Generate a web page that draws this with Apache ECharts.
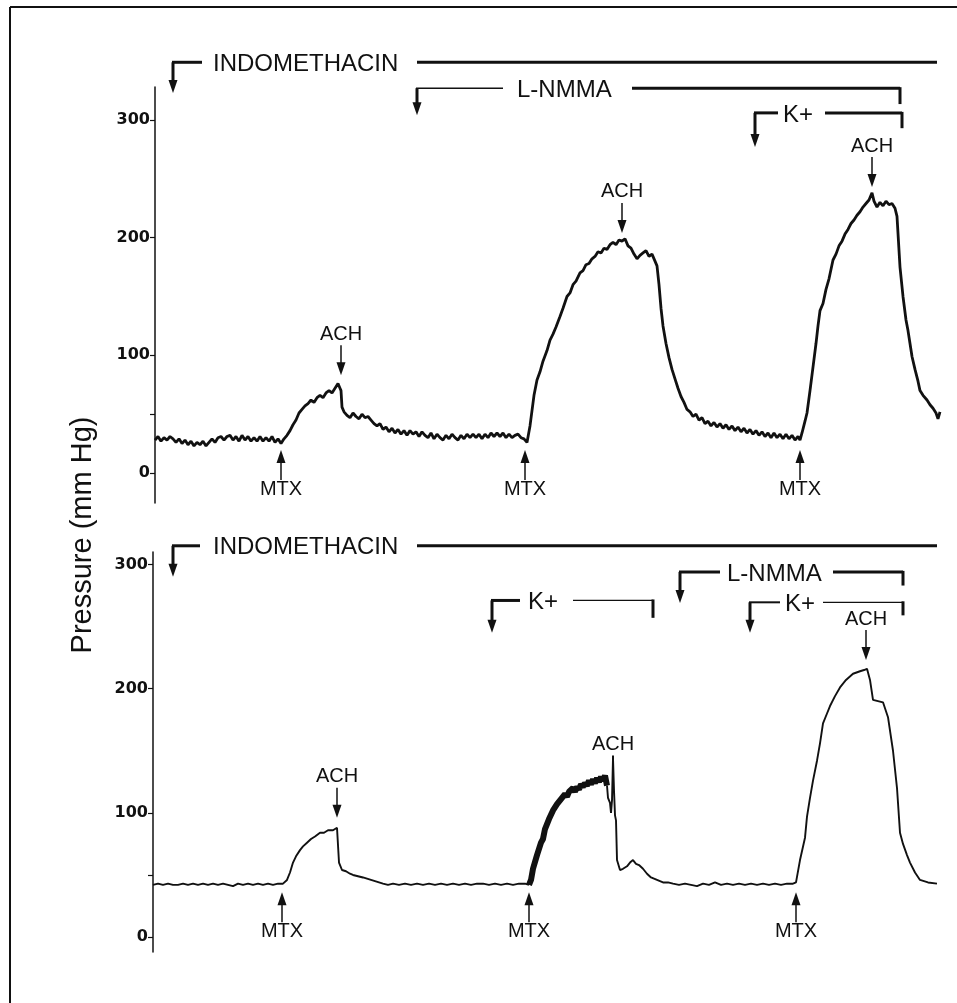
<!DOCTYPE html>
<html lang="en">
<head>
    <meta charset="UTF-8">
    <title>Pressure (mm Hg)</title>
    <style>
        html, body { margin: 0; padding: 0; background: #fff; }
        .chart { width: 957px; height: 1003px; }
    </style>
</head>
<body>
<div class="chart" id="showData"></div>
<script src="https://cdn.jsdelivr.net/npm/echarts@6/dist/echarts.min.js"></script>
<script>
    // time in arbitrary trace units, pressure in mm Hg
    var topTrace = [
        [0,28],[3,31],[6,27],[9,30],[12,28],[15,31],[18,29],[21,26],[24,29],[27,25],[30,28],[33,24],[36,27],[39,23],
        [42,26],[45,24],[48,27],[51,23],[54,26],[57,29],[60,26],[63,30],[66,31],[69,28],[72,31],[75,32],[78,28],[81,31],
        [84,27],[87,32],[90,28],[93,31],[96,27],[99,30],[102,27],[105,31],[108,27],[111,30],[114,27],[117,31],[120,26],
        [123,29],[126,25],[129,29],[132,32],[135,36],[138,41],[141,45],[144,51],[147,54],[150,57],[153,59],[156,62],
        [159,60],[162,64],[165,66],[168,64],[171,68],[174,70],[177,68],[180,72],[183,76],[185,72],[186,70],[187,56],
        [189,52],[192,49],[195,47],[198,51],[201,48],[204,46],[207,50],[210,47],[213,48],[216,45],[219,42],[222,40],
        [225,42],[228,37],[231,39],[234,35],[237,38],[240,34],[243,37],[246,33],[249,36],[252,32],[255,36],[258,33],
        [261,35],[264,31],[267,35],[270,32],[273,30],[276,34],[279,29],[282,33],[285,30],[288,28],[291,32],[294,29],
        [297,33],[300,30],[303,28],[306,32],[309,29],[312,33],[315,30],[318,33],[321,30],[324,33],[327,29],[330,33],
        [333,30],[336,34],[339,31],[342,34],[345,31],[348,34],[351,30],[354,33],[357,30],[360,32],[363,33],[366,30],
        [369,29],[372,26],[375,40],[377,53],[379,66],[382,79],[385,86],[388,95],[392,104],[395,113],[398,118],[401,124],
        [405,133],[408,140],[412,150],[415,153],[418,160],[421,163],[425,170],[428,172],[431,177],[434,178],[437,182],
        [440,184],[443,188],[446,187],[449,191],[452,190],[455,194],[458,196],[461,194],[464,198],[467,197],[470,199],
        [473,193],[476,191],[479,186],[482,182],[485,185],[488,187],[491,189],[494,184],[497,186],[500,180],[502,176],
        [504,160],[506,140],[508,125],[511,110],[514,98],[517,88],[520,80],[523,72],[526,65],[529,60],[532,54],[535,52],
        [538,48],[541,50],[544,45],[547,47],[550,42],[553,44],[556,40],[559,43],[562,39],[565,42],[568,38],[571,41],
        [574,37],[577,40],[580,36],[583,39],[586,35],[589,38],[592,34],[595,37],[598,33],[601,36],[604,32],[607,35],
        [610,31],[613,34],[616,30],[619,34],[622,30],[625,33],[628,29],[631,33],[634,29],[637,32],[640,28],[643,31],
        [645,28],[647,34],[650,44],[652,51],[655,70],[658,90],[661,110],[663,125],[665,138],[668,144],[671,156],
        [674,165],[678,181],[681,186],[684,193],[687,197],[690,203],[693,207],[696,212],[699,215],[702,219],[705,222],
        [708,226],[711,229],[714,232],[717,238],[719,231],[722,226],[725,230],[728,227],[731,231],[734,228],[737,229],
        [740,225],[742,218],[745,175],[748,150],[751,130],[753,121],[755,110],[757,99],[760,88],[763,78],[765,70],
        [768,66],[772,62],[775,58],[778,55],[781,51],[783,46],[785,52]
    ];

    // lower trace, split where the recorder line turns into a thick band
    var bottomTraceA = [
        [0,42],[5,43],[10,42],[15,43],[20,42],[25,42],[30,43],[35,42],[40,43],[45,42],[50,43],[55,42],[60,43],[65,42],
        [70,43],[75,42],[80,41],[85,43],[90,42],[95,43],[100,42],[105,43],[110,42],[115,43],[120,42],[125,43],[130,43],
        [134,46],[137,52],[140,60],[143,65],[147,70],[150,73],[154,76],[158,79],[162,81],[167,84],[171,84],[175,86],
        [180,86],[184,88],[185,88],[186,60],[189,54],[193,53],[197,51],[200,50],[205,49],[210,48],[214,47],[218,46],
        [222,45],[226,44],[230,43],[235,42],[240,43],[246,42],[252,43],[258,42],[264,43],[270,42],[276,43],[282,42],
        [288,43],[294,42],[300,43],[306,42],[312,43],[318,42],[324,43],[330,43],[336,42],[342,43],[348,42],[354,43],
        [360,42],[366,43],[372,43],[376,42]
    ];
    var bottomBand = [
        [376,42],[378,46],[380,55],[382,56],[384,66],[386,66],[388,76],[390,79],[392,87],[394,87],[396,95],[398,95],
        [400,102],[402,101],[404,107],[406,106],[408,111],[410,110],[412,115],[414,113],[416,117],[418,116],[420,120],
        [422,117],[424,121],[426,119],[428,123],[430,121],[432,124],[434,122],[436,126],[438,123],[440,127],[442,124],
        [444,128],[446,125],[448,129],[450,126],[452,130],[454,122]
    ];
    var bottomTraceB = [
        [454,122],[455,112],[457,108],[458,100],[459,110],[460,144],[461,118],[462,98],[463,94],[464,62],[467,54],
        [470,55],[474,57],[477,60],[480,62],[483,59],[486,58],[490,55],[494,51],[498,48],[504,46],[510,44],[515,44],
        [520,43],[526,42],[532,43],[538,42],[544,41],[550,43],[556,42],[562,44],[568,42],[574,43],[580,42],[586,43],
        [592,42],[598,43],[604,42],[610,43],[616,42],[622,43],[628,42],[634,43],[640,43],[643,44],[647,62],[652,80],
        [654,97],[657,112],[660,126],[664,142],[667,156],[670,172],[674,180],[677,186],[682,194],[687,201],[693,207],
        [700,212],[707,214],[711,215],[714,216],[717,207],[720,191],[725,190],[730,189],[735,177],[740,150],[744,120],
        [747,84],[750,75],[754,66],[757,60],[762,52],[767,46],[775,44],[784,43]
    ];

    var yTickValues = [0, 50, 100, 200, 300];
    var yLabelValues = [0, 100, 200, 300];

    // ACH / MTX: [time, pressure at the arrow tip]
    var achTop = [[186, 83], [467, 204], [717, 243]];
    var achBottom = [[184, 96], [460, 122], [713, 223]];
    var mtxTop = [[126, 19.5], [370, 19.5], [645, 19.5]];
    var mtxBottom = [[129, 36], [376, 36], [643, 36]];

    // drug periods: start (arrow), end, level row
    var drugsTop = [
        {name: 'INDOMETHACIN', start: 18, end: 782, level: 349, tip: 323, leadEnd: 47, textAt: 58, tailFrom: 262, drop: null, wLead: 3, wTail: 3},
        {name: 'L-NMMA', start: 262, end: 745, level: 327, tip: 304, leadEnd: 348, textAt: 362, tailFrom: 477, drop: 313.5, wLead: 1.5, wTail: 3},
        {name: 'K+', start: 600, end: 747, level: 306, tip: 277, leadEnd: 623, textAt: 628, tailFrom: 670, drop: 293, wLead: 3, wTail: 3}
    ];
    var drugsBottom = [
        {name: 'INDOMETHACIN', start: 20, end: 784, level: 315, tip: 290, leadEnd: 47, textAt: 60, tailFrom: 264, drop: null, wLead: 3, wTail: 3},
        {name: 'K+', start: 339, end: 500, level: 271, tip: 245, leadEnd: 367, textAt: 375, tailFrom: 420, drop: 257, wLead: 3, wTail: 1.3},
        {name: 'L-NMMA', start: 527, end: 750, level: 294, tip: 269, leadEnd: 567, textAt: 574, tailFrom: 680, drop: 283, wLead: 3, wTail: 3},
        {name: 'K+', start: 597, end: 750, level: 269.5, tip: 245, leadEnd: 627, textAt: 632, tailFrom: 670, drop: 259, wLead: 2, wTail: 1.3}
    ];

    var ink = '#111';
    var textFont = 'Liberation Sans, Arial, sans-serif';

    function yAxisFor(grid, min, max) {
        return {
            type: 'value', gridIndex: grid, min: min, max: max,
            splitLine: {show: false},
            axisLine: {show: true, lineStyle: {color: ink, width: 1.5}},
            axisTick: {show: true, length: 5, lineStyle: {color: ink, width: 1.2}, customValues: yTickValues},
            axisLabel: {
                customValues: yLabelValues, margin: 5, color: ink,
                fontFamily: 'DejaVu Sans', fontWeight: 'bold', fontSize: 16
            }
        };
    }

    function trace(grid, data, width) {
        return {type: 'line', xAxisIndex: grid, yAxisIndex: grid, data: data, symbol: 'none',
            lineStyle: {color: ink, width: width}};
    }

    var option = {
        backgroundColor: '#fff',
        animation: false,
        grid: [
            {left: 155, top: 87, width: 790, height: 416},
            {left: 153, top: 552, width: 790, height: 400}
        ],
        xAxis: [
            {type: 'value', gridIndex: 0, min: 0, max: 790, show: false},
            {type: 'value', gridIndex: 1, min: 0, max: 790, show: false}
        ],
        yAxis: [yAxisFor(0, -25.5, 328), yAxisFor(1, -12, 310)],
        series: [
            trace(0, topTrace, 2.8),
            trace(1, bottomTraceA, 1.9),
            trace(1, bottomBand, 6),
            trace(1, bottomTraceB, 1.9)
        ]
    };

    var mychart = echarts.init(document.getElementById('showData'));
    mychart.setOption(option);

    function toPx(g, t, v) {
        return mychart.convertToPixel({gridIndex: g}, [t, v]);
    }

    var gfx = [];
    function seg(x1, y1, x2, y2, w) {
        gfx.push({type: 'line', silent: true, shape: {x1: x1, y1: y1, x2: x2, y2: y2},
            style: {stroke: ink, lineWidth: w}});
    }
    function head(x, y, dir) {
        // dir 1: points down, -1: points up
        gfx.push({type: 'polygon', silent: true,
            shape: {points: [[x - 4.5, y - dir * 13], [x + 4.5, y - dir * 13], [x, y]]},
            style: {fill: ink}});
    }
    function label(x, y, text, size, align) {
        gfx.push({type: 'text', silent: true, x: x, y: y,
            style: {text: text, fontFamily: textFont, fontSize: size, fill: ink,
                align: align || 'center', verticalAlign: 'middle'}});
    }

    function drawAch(g, list) {
        list.forEach(function (a, i) {
            var p = toPx(g, a[0], a[1]);
            var noHead = (g === 1 && i === 1);
            seg(p[0], p[1] - 30, p[0], p[1] - (noHead ? 0 : 6), noHead ? 2 : 1.5);
            if (!noHead) head(p[0], p[1], 1);
            label(p[0], p[1] - 41, 'ACH', 20);
        });
    }
    function drawMtx(g, list) {
        list.forEach(function (a) {
            var p = toPx(g, a[0], a[1]);
            seg(p[0], p[1] + 6, p[0], p[1] + 30, 1.5);
            head(p[0], p[1], -1);
            label(p[0], p[1] + 39, 'MTX', 20);
        });
    }
    function drawDrugs(g, list) {
        list.forEach(function (d) {
            var a = toPx(g, d.start, d.level);
            var tip = toPx(g, d.start, d.tip);
            var le = toPx(g, d.leadEnd, d.level);
            var tx = toPx(g, d.textAt, d.level);
            var tf = toPx(g, d.tailFrom, d.level);
            var en = toPx(g, d.end, d.level);
            seg(a[0] - 1, a[1], le[0], a[1], d.wLead);
            seg(a[0], a[1], a[0], tip[1] - 6, 3);
            head(a[0], tip[1], 1);
            label(tx[0], tx[1] + 2, d.name, 24, 'left');
            seg(tf[0], tf[1], en[0], en[1], d.wTail);
            if (d.drop !== null) {
                var dp = toPx(g, d.end, d.drop);
                seg(en[0], en[1] - 1, en[0], dp[1], 3);
            }
        });
    }

    drawAch(0, achTop);
    drawAch(1, achBottom);
    drawMtx(0, mtxTop);
    drawMtx(1, mtxBottom);
    drawDrugs(0, drugsTop);
    drawDrugs(1, drugsBottom);

    // shared axis title and frame
    gfx.push({type: 'text', silent: true, x: 83, y: 535, rotation: Math.PI / 2,
        style: {text: 'Pressure (mm Hg)', fontFamily: textFont, fontSize: 29, fill: ink,
            align: 'center', verticalAlign: 'middle'}});
    seg(10, 7, 957, 7, 2);
    seg(10, 7, 10, 1003, 2);

    mychart.setOption({graphic: gfx});
</script>
</body>
</html>
